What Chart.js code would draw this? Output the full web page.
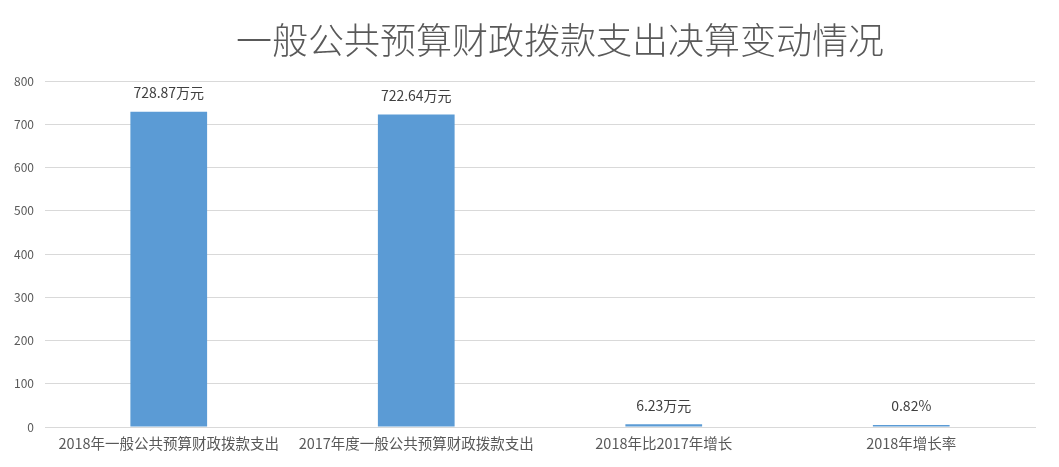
<!DOCTYPE html>
<html>
<head>
<meta charset="utf-8">
<script src="https://cdn.jsdelivr.net/npm/chart.js@4/dist/chart.umd.min.js"></script>
<style>
  html, body { margin: 0; padding: 0; background: #fff; }
  #wrap { width: 1059px; height: 467px; position: relative; }
</style>
</head>
<body>
<div id="wrap"><canvas id="budgetChart"></canvas></div>
<script>
const chartTitle = '一般公共预算财政拨款支出决算变动情况';
const categories = ['2018年一般公共预算财政拨款支出', '2017年度一般公共预算财政拨款支出', '2018年比2017年增长', '2018年增长率'];
const values = [728.87, 722.64, 6.23, 0.82];
const valueLabels = ['728.87万元', '722.64万元', '6.23万元', '0.82%'];
const yTicks = [0, 100, 200, 300, 400, 500, 600, 700, 800];

const cjkFont = '"Noto Sans CJK SC", "Noto Sans", sans-serif';

// title + labels over the bars
const extrasPlugin = {
    id: 'extras',
    afterDraw(chart) {
        const ctx = chart.ctx;
        ctx.save();
        ctx.fillStyle = '#595959';
        ctx.font = '300 36px ' + cjkFont;
        ctx.textAlign = 'center';
        ctx.textBaseline = 'middle';
        ctx.fillText(chartTitle, 560, 40);

        const meta = chart.getDatasetMeta(0);
        ctx.font = '14px ' + cjkFont;
        ctx.fillStyle = '#404040';
        meta.data.forEach((bar, i) => {
            ctx.fillText(valueLabels[i], bar.x, bar.y - 19);
        });
        ctx.restore();
    }
};

const ctx = document.getElementById('budgetChart');
new Chart(ctx, {
    type: 'bar',
    data: {
        labels: categories,
        datasets: [{
            data: values,
            backgroundColor: '#5b9bd5',
            categoryPercentage: 1,
            barPercentage: 0.31,
            minBarLength: 2
        }]
    },
    options: {
        responsive: true,
        maintainAspectRatio: false,
        animation: false,
        layout: { padding: { top: 81, right: 24, left: 0, bottom: 0 } },
        plugins: {
            legend: { display: false },
            title: { display: false },
            tooltip: { enabled: false }
        },
        scales: {
            x: {
                grid: { display: false, drawTicks: false },
                border: { color: '#d9d9d9' },
                ticks: {
                    color: '#595959',
                    font: { family: cjkFont, size: 14.5 },
                    padding: 8,
                    maxRotation: 0,
                    autoSkip: false
                },
                afterFit(scale) { scale.height = 40; }
            },
            y: {
                min: 0,
                max: 800,
                afterBuildTicks(scale) { scale.ticks = yTicks.map(v => ({ value: v })); },
                grid: { color: '#d9d9d9', drawTicks: false },
                border: { display: false },
                ticks: {
                    color: '#595959',
                    font: { family: cjkFont, size: 12 },
                    padding: 11
                },
                afterFit(scale) { scale.width = 45; }
            }
        }
    },
    plugins: [extrasPlugin]
});
</script>
</body>
</html>
